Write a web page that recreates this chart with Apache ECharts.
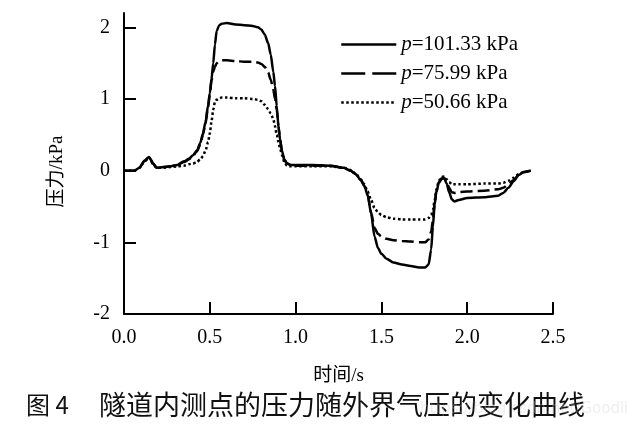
<!DOCTYPE html>
<html>
<head>
<meta charset="utf-8">
<script src="https://cdn.jsdelivr.net/npm/echarts@6/dist/echarts.min.js"></script>
<style>
html,body{margin:0;padding:0;background:#fff;}
#chart{width:628px;height:429px;}
</style>
</head>
<body>
<div id="chart"></div>
<script>
// ---- data ----
const seriesNames = ['p=101.33 kPa', 'p=75.99 kPa', 'p=50.66 kPa'];
const xTicks = [0, 0.5, 1.0, 1.5, 2.0, 2.5];
const yTicks = [-2, -1, 0, 1, 2];
const times = [
  0, 0.06, 0.09, 0.12, 0.146, 0.17, 0.19, 0.23, 0.27, 0.31,
  0.35, 0.38, 0.40, 0.425, 0.445, 0.46, 0.475, 0.49, 0.50, 0.51,
  0.52, 0.53, 0.54, 0.555, 0.57, 0.6, 0.65, 0.7, 0.75, 0.78,
  0.8, 0.82, 0.84, 0.855, 0.87, 0.88, 0.89, 0.9, 0.91, 0.92,
  0.935, 0.95, 0.97, 1.0, 1.1, 1.2, 1.28, 1.32, 1.35, 1.38,
  1.40, 1.42, 1.44, 1.46, 1.48, 1.5, 1.53, 1.57, 1.62, 1.67,
  1.72, 1.755, 1.775, 1.79, 1.80, 1.81, 1.82, 1.835, 1.85, 1.865,
  1.88, 1.895, 1.91, 1.925, 1.95, 2.0, 2.1, 2.18, 2.21, 2.24,
  2.27, 2.3, 2.33, 2.37
];
const p101 = [
  0, 0, 0.04, 0.14, 0.19, 0.10, 0.04, 0.05, 0.06, 0.08,
  0.13, 0.17, 0.21, 0.28, 0.39, 0.52, 0.68, 0.91, 1.08, 1.28,
  1.50, 1.76, 1.95, 2.03, 2.05, 2.06, 2.04, 2.03, 2.02, 2.00,
  1.97, 1.90, 1.78, 1.62, 1.38, 1.18, 0.90, 0.62, 0.43, 0.28,
  0.15, 0.10, 0.08, 0.08, 0.08, 0.07, 0.04, 0.00, -0.05, -0.13,
  -0.21, -0.34, -0.60, -0.92, -1.08, -1.16, -1.23, -1.28, -1.31, -1.33,
  -1.35, -1.35, -1.31, -1.10, -0.78, -0.48, -0.30, -0.17, -0.12, -0.10,
  -0.18, -0.30, -0.40, -0.43, -0.41, -0.38, -0.37, -0.35, -0.31, -0.24,
  -0.15, -0.06, -0.02, 0.0
];
const p76 = [
  0, 0, 0.04, 0.14, 0.19, 0.10, 0.04, 0.05, 0.06, 0.08,
  0.12, 0.16, 0.20, 0.27, 0.37, 0.50, 0.66, 0.89, 1.06, 1.26,
  1.38, 1.45, 1.50, 1.53, 1.54, 1.54, 1.53, 1.52, 1.52, 1.51,
  1.49, 1.45, 1.37, 1.27, 1.13, 1.00, 0.85, 0.62, 0.43, 0.28,
  0.15, 0.10, 0.08, 0.07, 0.07, 0.07, 0.04, 0.00, -0.05, -0.13,
  -0.21, -0.34, -0.58, -0.80, -0.88, -0.92, -0.95, -0.97, -0.98, -0.99,
  -1.00, -1.00, -0.96, -0.85, -0.70, -0.46, -0.29, -0.16, -0.11, -0.10,
  -0.16, -0.24, -0.30, -0.31, -0.30, -0.29, -0.28, -0.26, -0.24, -0.19,
  -0.13, -0.06, -0.02, 0.0
];
const p51 = [
  0, 0, 0.04, 0.13, 0.18, 0.09, 0.04, 0.04, 0.05, 0.06,
  0.07, 0.09, 0.10, 0.12, 0.16, 0.20, 0.28, 0.40, 0.52, 0.69,
  0.85, 0.96, 0.99, 1.01, 1.02, 1.02, 1.01, 1.01, 1.00, 0.99,
  0.97, 0.92, 0.86, 0.80, 0.72, 0.62, 0.50, 0.40, 0.31, 0.22,
  0.12, 0.07, 0.06, 0.06, 0.06, 0.06, 0.04, 0.01, -0.04, -0.12,
  -0.19, -0.29, -0.41, -0.52, -0.58, -0.62, -0.65, -0.67, -0.68, -0.68,
  -0.68, -0.68, -0.66, -0.62, -0.55, -0.42, -0.27, -0.14, -0.09, -0.08,
  -0.12, -0.16, -0.19, -0.19, -0.19, -0.19, -0.18, -0.18, -0.17, -0.14,
  -0.10, -0.05, -0.02, 0.0
];
const captionLabel = '图 4';
const captionText = '隧道内测点的压力随外界气压的变化曲线';
const watermark = 'https://blog.csdn.net/Goodlick';

// ---- chart ----
const serif = '"Liberation Serif", "Times New Roman", "Noto Sans CJK SC", serif';
const pair = vals => times.map((t, i) => [t, vals[i]]);
const lineTypes = ['solid', [12, 5], [2.5, 2.5]];
const legendLineTypes = ['solid', [24, 7], [2.5, 2.5]];
const valueSets = [p101, p76, p51];

const chart = echarts.init(document.getElementById('chart'), null, {renderer: 'canvas'});
chart.setOption({
  animation: false,
  backgroundColor: '#fff',
  grid: {left: 124, right: 75, top: 13, bottom: 115, containLabel: false},
  legend: {
    orient: 'vertical',
    left: 335,
    top: 29,
    width: 250,
    itemWidth: 55,
    itemHeight: 14,
    itemGap: 8,
    data: seriesNames.map((n, k) => ({
      name: n,
      lineStyle: {color: '#000', width: 2.5, type: legendLineTypes[k]}
    })),
    itemStyle: {opacity: 0, borderWidth: 0},
    formatter: name => '{i|' + name.charAt(0) + '}{n|' + name.slice(1) + '}',
    textStyle: {
      color: '#000',
      rich: {
        i: {fontFamily: serif, fontStyle: 'italic', fontSize: 21, color: '#000', lineHeight: 22},
        n: {fontFamily: serif, fontSize: 21, color: '#000', lineHeight: 22}
      }
    }
  },
  xAxis: {
    type: 'value',
    min: 0, max: 2.5, interval: 0.5,
    name: '时间/s',
    nameLocation: 'middle',
    nameGap: 53,
    nameTextStyle: {fontFamily: serif, fontSize: 19, color: '#000'},
    axisLine: {show: true, onZero: false, lineStyle: {color: '#000', width: 2}},
    axisTick: {show: true, inside: true, length: 12, lineStyle: {color: '#000', width: 2}},
    axisLabel: {
      customValues: xTicks,
      formatter: v => v.toFixed(1),
      fontFamily: serif, fontSize: 20, color: '#000', margin: 14
    },
    splitLine: {show: false}
  },
  yAxis: {
    type: 'value',
    min: -2, max: 2.2, interval: 1,
    name: '压力/kPa',
    nameLocation: 'middle',
    nameRotate: 90,
    nameGap: 57,
    nameTextStyle: {fontFamily: serif, fontSize: 19, color: '#000', padding: [0, 16, 0, 0]},
    axisLine: {show: true, onZero: false, lineStyle: {color: '#000', width: 2}},
    axisTick: {show: true, inside: true, length: 12, customValues: yTicks, lineStyle: {color: '#000', width: 2}},
    axisLabel: {
      customValues: yTicks,
      formatter: v => String(v),
      fontFamily: serif, fontSize: 20, color: '#000', margin: 14
    },
    splitLine: {show: false}
  },
  series: seriesNames.map((n, k) => ({
    name: n,
    type: 'line',
    data: pair(valueSets[k]),
    showSymbol: false,
    symbol: 'none',
    smooth: 0.25,
    smoothMonotone: 'x',
    lineStyle: {color: '#000', width: 2.5, type: lineTypes[k]},
    itemStyle: {color: '#000'},
    z: 3 - k
  })),
  graphic: [
    {type: 'text', left: 26, top: 393, style: {text: captionLabel, font: '24px "Noto Sans CJK SC"', fill: '#111'}},
    {type: 'text', left: 99, top: 391, style: {text: captionText, font: '27px "Noto Sans CJK SC"', fill: '#111'}},
    {type: 'text', left: 420, top: 402, style: {text: watermark, font: '15px "DejaVu Sans"', fill: 'rgba(200,200,200,0.3)'}}
  ]
});
</script>
</body>
</html>
